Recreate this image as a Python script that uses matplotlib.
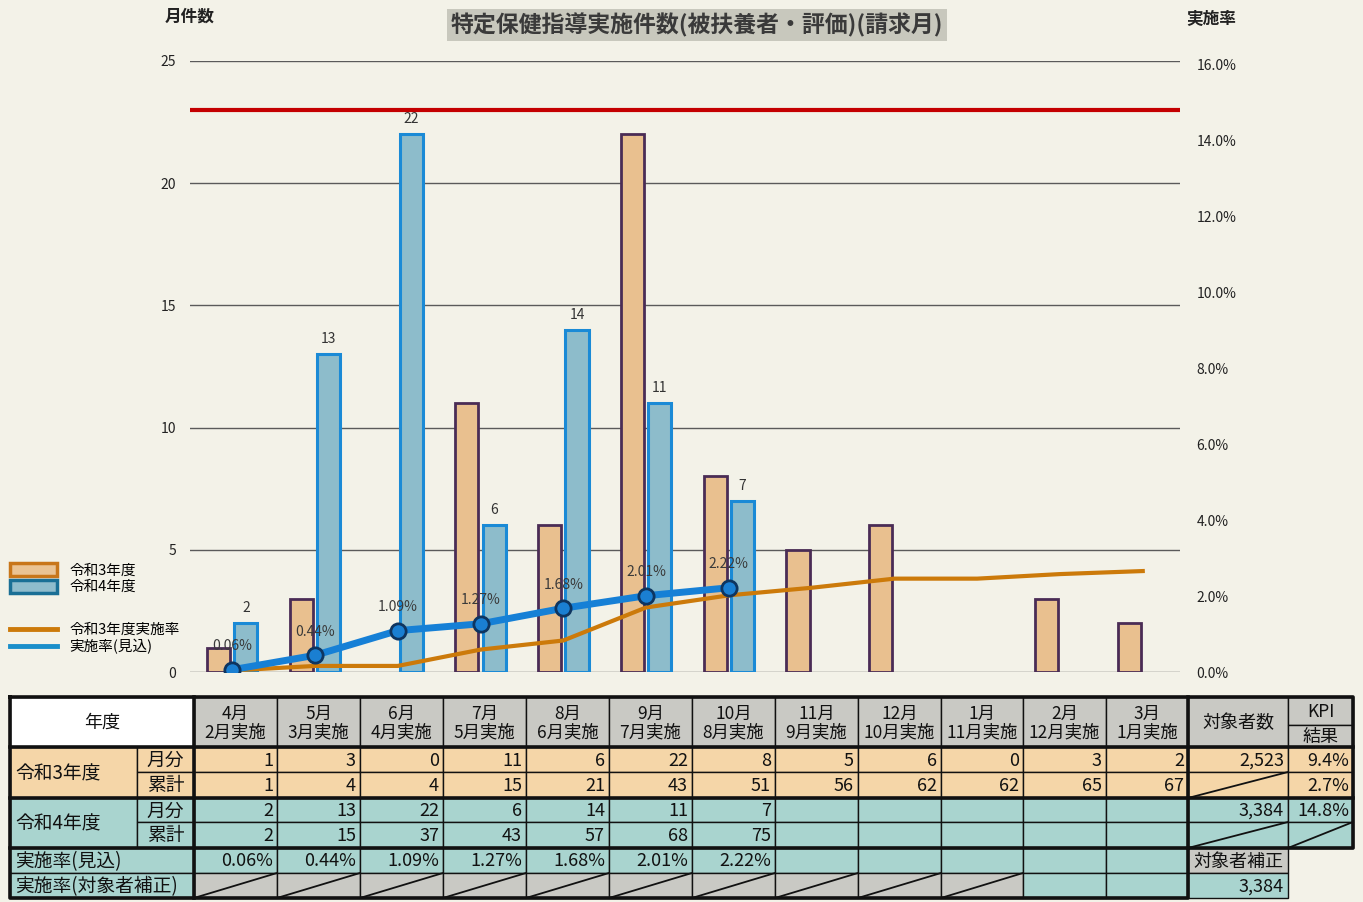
import matplotlib.pyplot as plt
import matplotlib.patches as mpatches
from matplotlib.lines import Line2D

plt.rcParams['font.family'] = ['Noto Sans CJK JP', 'DejaVu Sans']

# データ
months = ['4月', '5月', '6月', '7月', '8月', '9月', '10月', '11月', '12月', '1月', '2月', '3月']
jisshi = ['2月実施', '3月実施', '4月実施', '5月実施', '6月実施', '7月実施',
          '8月実施', '9月実施', '10月実施', '11月実施', '12月実施', '1月実施']
r3_monthly = [1, 3, 0, 11, 6, 22, 8, 5, 6, 0, 3, 2]
r3_cumul = [1, 4, 4, 15, 21, 43, 51, 56, 62, 62, 65, 67]
r4_monthly = [2, 13, 22, 6, 14, 11, 7]
r4_cumul = [2, 15, 37, 43, 57, 68, 75]
rate_r4 = [0.06, 0.44, 1.09, 1.27, 1.68, 2.01, 2.22]
rate_r3 = [0.04, 0.16, 0.16, 0.59, 0.83, 1.70, 2.02, 2.22, 2.46, 2.46, 2.58, 2.66]
kpi_target = 14.8
targets = ['2,523', '3,384']
kpi_values = ['9.4%', '2.7%', '14.8%']
target_adj = '3,384'

BG = '#f3f2e8'
ORANGE_CELL = '#f5d6a8'
TEAL_CELL = '#a9d4cf'
GRAY_CELL = '#c9c9c4'

fig = plt.figure(figsize=(13.63, 9.02), dpi=100, facecolor=BG)

# グラフ部分
ax = fig.add_axes([190 / 1363, 1 - 672 / 902, 990 / 1363, 611 / 902])
ax.set_facecolor('none')
x = list(range(len(months)))
bw = 0.28
x3 = [i - 0.165 for i in x]
x4 = [i + 0.165 for i in range(len(r4_monthly))]
ax.bar(x3, r3_monthly, width=bw, color='#e9c08f', edgecolor='#4a2c55',
       linewidth=[0 if v == 0 else 2 for v in r3_monthly], zorder=3)
ax.bar(x4, r4_monthly, width=bw, color='#8dbccb', edgecolor='#1a8ad6',
       linewidth=2.2, zorder=3)
for xi, v in zip(x4, r4_monthly):
    ax.annotate(str(v), (xi, v), xytext=(0, 6), textcoords='offset points',
                ha='center', va='bottom', fontsize=10, color='#333333')

ax.set_ylim(0, 25)
ax.set_xlim(-0.51, 11.45)
ax.set_yticks([0, 5, 10, 15, 20, 25])
ax.yaxis.grid(True, color='#5a5a5a', linewidth=1)
ax.set_axisbelow(True)
ax.set_xticks([])
ax.tick_params(axis='y', length=0, pad=10, labelsize=10, labelcolor='#222222')
for s in ax.spines.values():
    s.set_visible(False)

ax2 = ax.twinx()
ax2.set_ylim(0, 16.1)
ax2.set_yticks([0, 2, 4, 6, 8, 10, 12, 14, 16])
ax2.set_yticklabels([f'{v:.1f}%' for v in [0, 2, 4, 6, 8, 10, 12, 14, 16]])
ax2.tick_params(axis='y', length=0, pad=12, labelsize=10, labelcolor='#222222')
for s in ax2.spines.values():
    s.set_visible(False)

ax2.plot([-0.51, 11.45], [kpi_target, kpi_target], color='#c40000', linewidth=3, zorder=4)
ax2.plot(x, rate_r3, color='#cc7a0a', linewidth=3, zorder=5)
ax2.plot(range(len(rate_r4)), rate_r4, color='#1680d6', linewidth=5, marker='o',
         markersize=11, markerfacecolor='#1a7fd2', markeredgecolor='#0e3560',
         markeredgewidth=2, zorder=6)
for xi, v in enumerate(rate_r4):
    ax2.annotate(f'{v:.2f}%', (xi, v), xytext=(0, 12), textcoords='offset points',
                 ha='center', va='bottom', fontsize=10, color='#3a3a3a', zorder=7)

# タイトル・軸見出し
fig.text(697 / 1363, 1 - 25 / 902, '特定保健指導実施件数(被扶養者・評価)(請求月)',
         ha='center', va='center', fontsize=16.5, fontweight='bold', color='#3a3a3a',
         bbox=dict(facecolor='#c8c8bd', edgecolor='none', pad=3))
fig.text(190 / 1363, 1 - 17 / 902, '月件数', ha='center', va='center',
         fontsize=12, fontweight='bold', color='#222222')
fig.text(1211 / 1363, 1 - 19 / 902, '実施率', ha='center', va='center',
         fontsize=12, fontweight='bold', color='#222222')

# 凡例
h1 = [mpatches.Patch(facecolor='#eac393', edgecolor='#c8761a', linewidth=2.5),
      mpatches.Patch(facecolor='#8fbccc', edgecolor='#1a6f95', linewidth=2.5)]
fig.legend(h1, ['令和3年度', '令和4年度'], loc='upper left',
           bbox_to_anchor=(10 / 1363, 1 - 563 / 902), frameon=False,
           fontsize=10.5, handlelength=3.2, handleheight=1.0,
           handletextpad=0.85, labelspacing=0.15, borderpad=0, borderaxespad=0)
h2 = [Line2D([], [], color='#cc7a0a', linewidth=3.5),
      Line2D([], [], color='#1a8fca', linewidth=3.5)]
fig.legend(h2, ['令和3年度実施率', '実施率(見込)'], loc='upper left',
           bbox_to_anchor=(10 / 1363, 1 - 623 / 902), frameon=False,
           fontsize=10.5, handlelength=3.2, handletextpad=0.85,
           labelspacing=0.15, borderpad=0, borderaxespad=0)

# 表
tab = fig.add_axes([0, 0, 1, 1])
tab.set_xlim(0, 1363)
tab.set_ylim(902, 0)
tab.axis('off')

cols = [194, 277, 360, 443, 526, 609, 692, 775, 858, 941, 1023, 1106, 1188]
rows = [697, 747, 772, 798, 822, 848, 873, 898]
FS = 13


def cell(x0, x1, y0, y1, fc, text=None, ha='right', slash=False, fs=FS, lw=1):
    tab.add_patch(mpatches.Rectangle((x0, y0), x1 - x0, y1 - y0, facecolor=fc,
                                     edgecolor='#111111', linewidth=lw))
    if slash:
        tab.plot([x0, x1], [y1, y0], color='#111111', linewidth=1.3)
    if text is not None:
        if ha == 'right':
            tx = x1 - 4
        elif ha == 'left':
            tx = x0 + 5
        else:
            tx = (x0 + x1) / 2
        tab.text(tx, (y0 + y1) / 2 + 1, text, ha=ha, va='center', fontsize=fs,
                 color='#111111', linespacing=1.0)


# 見出し行
cell(10, 194, rows[0], rows[1], 'white', '年度', ha='center')
for i in range(12):
    cell(cols[i], cols[i + 1], rows[0], rows[1], GRAY_CELL,
         months[i] + '\n' + jisshi[i], ha='center', fs=12.5)
cell(1188, 1288, rows[0], rows[1], GRAY_CELL, '対象者数', ha='center')
cell(1288, 1353, rows[0], 725, GRAY_CELL, 'KPI', ha='center', fs=12.5)
cell(1288, 1353, 725, rows[1], GRAY_CELL, '結果', ha='center')

# 令和3年度
cell(10, 137, rows[1], rows[3], ORANGE_CELL, '令和3年度', ha='left', fs=13.5)
cell(137, 194, rows[1], rows[2], ORANGE_CELL, '月分', ha='center', fs=13.5)
cell(137, 194, rows[2], rows[3], ORANGE_CELL, '累計', ha='center', fs=13.5)
for i in range(12):
    cell(cols[i], cols[i + 1], rows[1], rows[2], ORANGE_CELL, str(r3_monthly[i]))
    cell(cols[i], cols[i + 1], rows[2], rows[3], ORANGE_CELL, str(r3_cumul[i]))
cell(1188, 1288, rows[1], rows[2], ORANGE_CELL, targets[0])
cell(1188, 1288, rows[2], rows[3], ORANGE_CELL, slash=True)
cell(1288, 1353, rows[1], rows[2], ORANGE_CELL, kpi_values[0])
cell(1288, 1353, rows[2], rows[3], ORANGE_CELL, kpi_values[1])

# 令和4年度
cell(10, 137, rows[3], rows[5], TEAL_CELL, '令和4年度', ha='left', fs=13.5)
cell(137, 194, rows[3], rows[4], TEAL_CELL, '月分', ha='center', fs=13.5)
cell(137, 194, rows[4], rows[5], TEAL_CELL, '累計', ha='center', fs=13.5)
for i in range(12):
    m = str(r4_monthly[i]) if i < len(r4_monthly) else None
    c = str(r4_cumul[i]) if i < len(r4_cumul) else None
    cell(cols[i], cols[i + 1], rows[3], rows[4], TEAL_CELL, m)
    cell(cols[i], cols[i + 1], rows[4], rows[5], TEAL_CELL, c)
cell(1188, 1288, rows[3], rows[4], TEAL_CELL, targets[1])
cell(1188, 1288, rows[4], rows[5], TEAL_CELL, slash=True)
cell(1288, 1353, rows[3], rows[4], TEAL_CELL, kpi_values[2])
cell(1288, 1353, rows[4], rows[5], TEAL_CELL, slash=True)

# 実施率
cell(10, 194, rows[5], rows[6], TEAL_CELL, '実施率(見込)', ha='left', fs=13.5)
cell(10, 194, rows[6], rows[7], TEAL_CELL, '実施率(対象者補正)', ha='left', fs=13.5)
for i in range(12):
    r = f'{rate_r4[i]:.2f}%' if i < len(rate_r4) else None
    cell(cols[i], cols[i + 1], rows[5], rows[6], TEAL_CELL, r)
    if i < 10:
        cell(cols[i], cols[i + 1], rows[6], rows[7], GRAY_CELL, slash=True)
    else:
        cell(cols[i], cols[i + 1], rows[6], rows[7], TEAL_CELL)
cell(1188, 1288, rows[5], rows[6], GRAY_CELL, '対象者補正', ha='center', fs=13)
cell(1188, 1288, rows[6], rows[7], TEAL_CELL, target_adj)

# 太枠
thick = dict(color='#111111', linewidth=2.6, solid_capstyle='projecting')
tab.plot([10, 1353, 1353, 1188, 1188, 10, 10],
         [697, 697, 848, 848, 898, 898, 697], **thick)
tab.plot([10, 1353], [747, 747], **thick)
tab.plot([10, 1353], [798, 798], **thick)
tab.plot([10, 1188], [848, 848], **thick)
tab.plot([194, 194], [697, 898], **thick)
tab.plot([1188, 1188], [697, 848], **thick)

fig.savefig('out.png', dpi=100, facecolor=BG)
